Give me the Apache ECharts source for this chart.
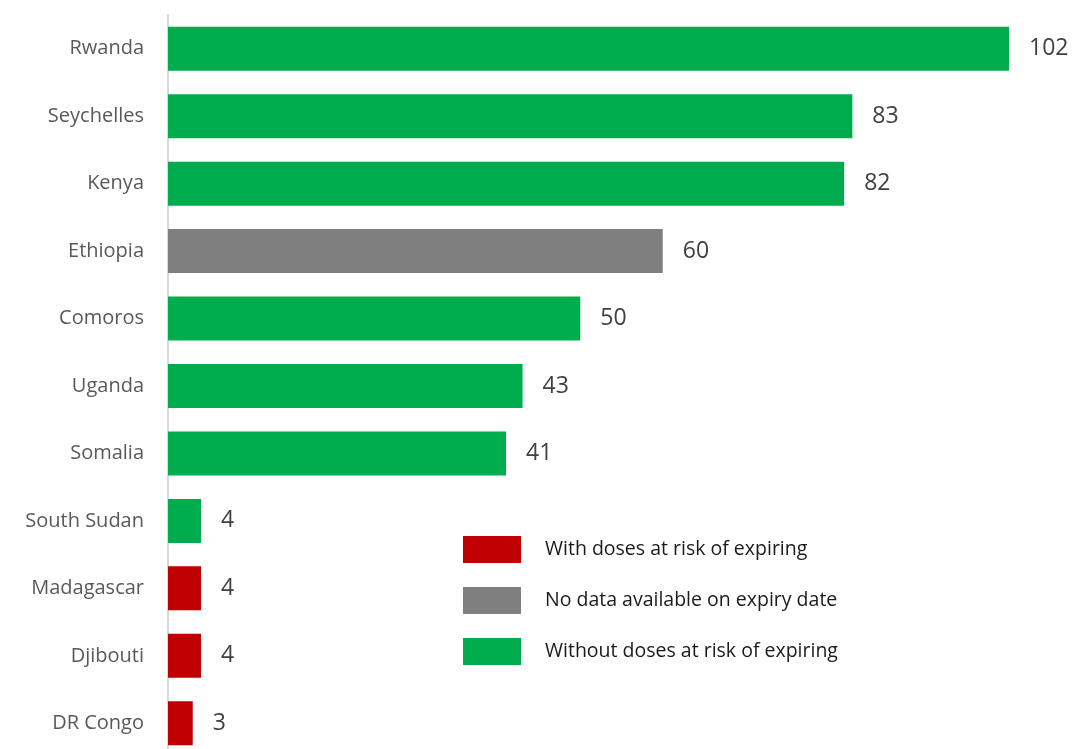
<!DOCTYPE html>
<html>
<head>
<meta charset="utf-8">
<script src="https://cdn.jsdelivr.net/npm/echarts@6/dist/echarts.min.js"></script>
<style>html,body{margin:0;padding:0;background:#fff;overflow:hidden;}#c{width:1080px;height:757px;}</style>
</head>
<body>
<div id="c"></div>
<script>
const countries = ['Rwanda','Seychelles','Kenya','Ethiopia','Comoros','Uganda','Somalia','South Sudan','Madagascar','Djibouti','DR Congo'];
const values = [102, 83, 82, 60, 50, 43, 41, 4, 4, 4, 3];
const status = ['without','without','without','nodata','without','without','without','without','with','with','with'];
const groups = [
  {key:'with', name:'With doses at risk of expiring', color:'#c00000'},
  {key:'nodata', name:'No data available on expiry date', color:'#7f7f7f'},
  {key:'without', name:'Without doses at risk of expiring', color:'#00ad4e'}
];
const font = '"Open Sans", sans-serif';
const chart = echarts.init(document.getElementById('c'));
chart.setOption({
  animation:false,
  grid:{left:168, width:907, top:15, height:742, containLabel:false},
  xAxis:{type:'value', min:0, max:110, show:false},
  yAxis:{type:'category', inverse:true, data:countries,
    axisLine:{show:true, lineStyle:{color:'#d9d9d9', width:2}},
    axisTick:{show:false},
    axisLabel:{color:'#595959', fontFamily:font, fontSize:20, margin:24}
  },
  legend:{orient:'vertical', left:463, top:536, padding:0, itemWidth:58, itemHeight:27, itemGap:24,
    textStyle:{color:'#1a1a1a', fontFamily:font, fontSize:19.5, padding:[0,0,0,19]},
    data:groups.map(g=>({name:g.name, icon:'rect'}))},
  series:groups.map(g=>({
    type:'bar', name:g.name, barWidth:44, barGap:'-100%',
    itemStyle:{color:g.color},
    label:{show:true, position:'right', distance:20, color:'#404040', fontFamily:font, fontSize:23},
    data:values.map((v,i)=>status[i]===g.key ? v : '-')
  }))
});
</script>
</body>
</html>
